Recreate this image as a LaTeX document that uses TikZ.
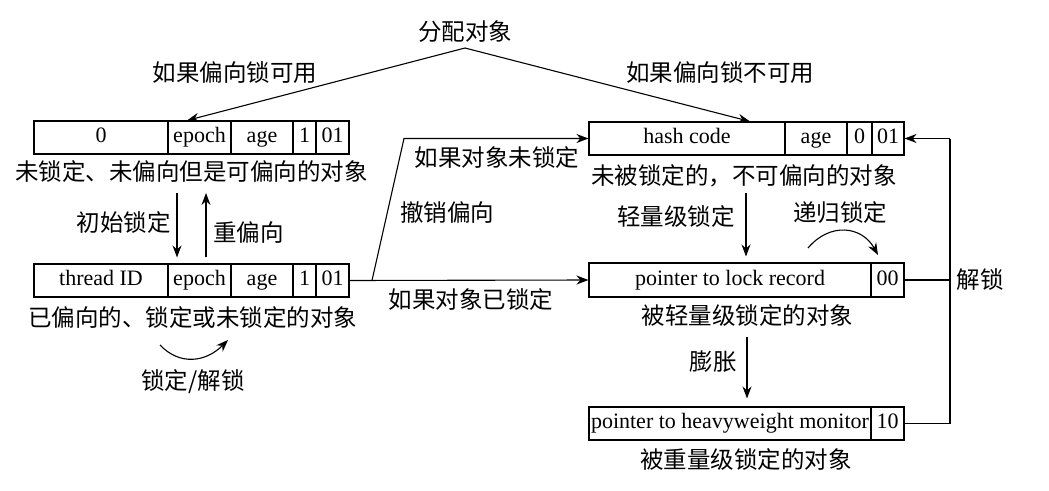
\documentclass[tikz,border=0pt]{standalone}
\usepackage{fontspec}
\setmainfont{Liberation Serif}
\newfontfamily\cjk{Noto Sans CJK SC}
\usetikzlibrary{arrows.meta}
\begin{document}
\begin{tikzpicture}[x=1pt,y=-1pt,
  every node/.style={font=\fontsize{22}{24}\selectfont},
  cell/.style={draw, line width=1.1pt, inner sep=0pt, text height=15pt, text depth=4.5pt, font=\fontsize{22}{24}\selectfont},
  lbl/.style={inner sep=0pt, font=\fontsize{23.5}{26}\selectfont\cjk},
  ln/.style={line width=1.1pt},
  arr/.style={line width=1.1pt, -{Stealth[length=12pt,width=9pt]}}]
\useasboundingbox (0,0) rectangle (1049,490);
% box 1
\node[cell, minimum width=134pt, minimum height=33pt] (b1a) at (101,137.5) {0};
\node[cell, minimum width=63pt, minimum height=33pt] (b1b) at (199.5,137.5) {epoch};
\node[cell, minimum width=62pt, minimum height=33pt] (b1c) at (262,137.5) {age};
\node[cell, minimum width=23pt, minimum height=33pt] (b1d) at (304.5,137.5) {1};
\node[cell, minimum width=33pt, minimum height=33pt] (b1e) at (332.5,137.5) {01};
\node[lbl] (cap1) at (191.5,172) {未锁定、未偏向但是可偏向的对象};
% box 2
\node[cell, minimum width=134pt, minimum height=33pt] (b2a) at (101,280.5) {thread ID};
\node[cell, minimum width=63pt, minimum height=33pt] (b2b) at (199.5,280.5) {epoch};
\node[cell, minimum width=62pt, minimum height=33pt] (b2c) at (262,280.5) {age};
\node[cell, minimum width=23pt, minimum height=33pt] (b2d) at (304.5,280.5) {1};
\node[cell, minimum width=33pt, minimum height=33pt] (b2e) at (332.5,280.5) {01};
\node[lbl] (cap2) at (192.5,318) {已偏向的、锁定或未锁定的对象};
% hash box
\node[cell, minimum width=196pt, minimum height=33pt] (ha) at (687,138.5) {hash code};
\node[cell, minimum width=62pt, minimum height=33pt] (hb) at (816,138.5) {age};
\node[cell, minimum width=25pt, minimum height=33pt] (hc) at (859.5,138.5) {0};
\node[cell, minimum width=32pt, minimum height=33pt] (hd) at (888,138.5) {01};
\node[lbl] (cap3) at (744,176) {未被锁定的，不可偏向的对象};
% lock record box
\node[cell, minimum width=282pt, minimum height=34pt] (la) at (730,280) {pointer to lock record};
\node[cell, minimum width=33pt, minimum height=34pt] (lb) at (887.5,280) {00};
\node[lbl] (cap4) at (747.5,316) {被轻量级锁定的对象};
% heavy box
\node[cell, minimum width=282pt, minimum height=33pt] (ma) at (730,423.5) {pointer to heavyweight monitor};
\node[cell, minimum width=33pt, minimum height=33pt] (mb) at (887.5,423.5) {10};
\node[lbl] (cap5) at (746,460) {被重量级锁定的对象};
% top allocation
\coordinate (apex) at (465,48);
\node[lbl] (alloc) at (465,32) {分配对象};
\node[lbl] (ifb) at (235,73) {如果偏向锁可用};
\node[lbl] (ifnb) at (720,73) {如果偏向锁不可用};
\draw[arr] (apex) -- ([xshift=-12.5pt]b1b.north);
\draw[arr] (apex) -- ([xshift=63pt]ha.north);
% initial lock / rebias
\coordinate (d1) at (177,193);
\coordinate (u1) at (206,193);
\draw[arr, shorten >=6pt] (d1) -- ([xshift=-22.5pt]b2b.north);
\draw[arr, shorten <=6pt] ([xshift=6.5pt]b2b.north) -- (u1);
\node[lbl] (init) at (123.5,223) {初始锁定};
\node[lbl] (rebias) at (248.5,233) {重偏向};
% lock/unlock arc
\coordinate (lu1) at (160,345);
\coordinate (lu2) at (228,340);
\draw[arr] (lu1) .. controls (180,366) and (206,362) .. (lu2);
\node[lbl] (lulbl) at (193,382) {锁定/解锁};
% revoke
\coordinate (rv0) at (372,280.5);
\coordinate (rv1) at (404,138.5);
\draw[arr] (b2e.east) -- (la.west);
\draw[arr] (rv0) -- (rv1) -- (ha.west);
\node[lbl] (ifnl) at (497,158) {如果对象未锁定};
\node[lbl] (revoke) at (447,213) {撤销偏向};
\node[lbl] (ifl) at (471,300) {如果对象已锁定};
% lightweight
\coordinate (lw0) at (746,193);
\draw[arr, shorten >=6pt] (lw0) -- (la.north -| lw0);
\node[lbl] (lwl) at (676,217) {轻量级锁定};
% recursive
\coordinate (rc0) at (808,248);
\coordinate (rc1) at (878,255);
\draw[arr] (rc0) .. controls (830,222) and (862,226) .. (rc1);
\node[lbl] (rcl) at (840,213) {递归锁定};
% inflate
\coordinate (in0) at (747,337);
\draw[arr, shorten >=8pt] (in0) -- (ma.north -| in0);
\node[lbl] (infl) at (713,362) {膨胀};
% unlock loop
\coordinate (r1) at (950,423.5);
\coordinate (r2) at (950,138.5);
\draw[ln] (mb.east) -- (r1) -- (r2);
\draw[arr] (r2) -- (hd.east);
\draw[ln] (lb.east) -- (lb.east -| r1);
\node[lbl] (unl) at (980,280) {解锁};
\end{tikzpicture}
\end{document}
